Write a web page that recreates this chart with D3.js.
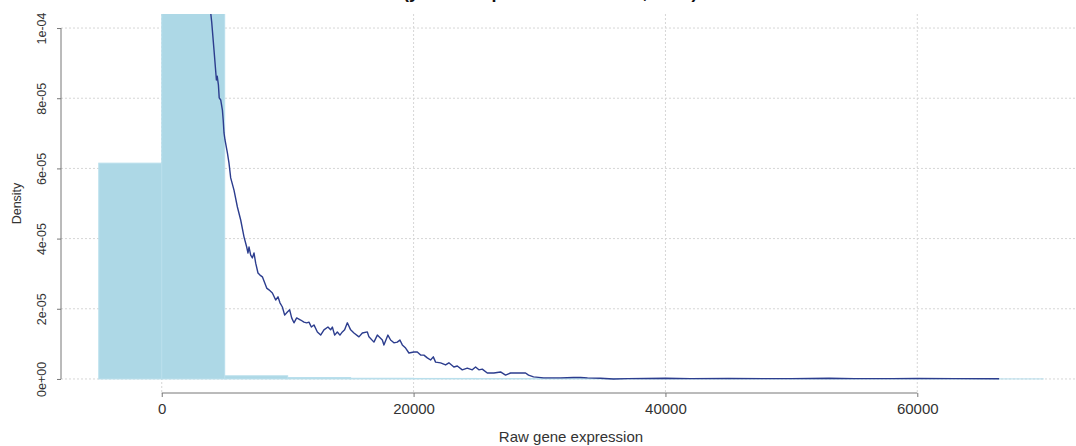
<!DOCTYPE html>
<html>
<head>
<meta charset="utf-8">
<script src="https://cdn.jsdelivr.net/npm/d3@7"></script>
<style>
    body { margin: 0; background: #fff; }
    svg { display: block; font-family: "Liberation Sans", Arial, sans-serif; }
</style>
</head>
<body>
<div id="chart"></div>
<script>
// histogram bins (left edge, width 5000), density in units of 1e-5
var binLeft = [-5000, 0, 5000, 10000, 15000, 20000, 25000, 30000, 35000, 40000, 45000, 50000, 55000, 60000, 65000]
var binWidth = 5000
var binHeight = [6.15, 13.7, 0.09, 0.04, 0.02, 0.015, 0.01, 0.01, 0.008, 0.006, 0.005, 0.004, 0.003, 0.003, 0.002]

// density curve, y in units of 1e-5
var densX = [3650, 3889, 3968, 4151, 4341, 4405, 4500, 4564, 4683, 4818, 4881, 4945, 5024, 5214, 5341, 5476, 5738, 6008, 6270, 6532,
    6746, 6849, 6929, 7064, 7199, 7326, 7461, 7643, 7802, 7992, 8175, 8334, 8516, 8786, 9048, 9231, 9389, 9580, 9762, 9977,
    10159, 10318, 10500, 10715, 11032, 11294, 11508, 11691, 11881, 12088, 12358, 12620, 12881, 13199, 13413, 13548, 13731, 13945, 14151, 14342,
    14524, 14739, 15001, 15263, 15660, 15930, 16327, 16454, 16851, 17120, 17517, 17644, 17961, 18175, 18437, 18707, 18913, 19104, 19366, 19628,
    20025, 20295, 20557, 20819, 21089, 21350, 21565, 21747, 22144, 22541, 22803, 23200, 23470, 23866, 24263, 24660, 24922, 25184, 25454, 25851,
    26375, 26905, 27302, 27699, 28493, 28890, 29128, 29525, 30318, 31667, 32699, 33255, 33811, 34842, 35874, 37000, 40000, 42000, 45000, 48000,
    50000, 53000, 55000, 58000, 60000, 63000, 66500]
var densY = [11.5, 10.43, 10.17, 9.37, 8.52, 8.63, 8.38, 8.01, 7.95, 7.66, 7.38, 7.01, 6.81, 6.44, 6.15, 5.73, 5.38, 4.90, 4.53, 4.05,
    3.76, 3.59, 3.76, 3.53, 3.45, 3.59, 3.30, 3.02, 2.96, 2.91, 2.74, 2.59, 2.54, 2.45, 2.25, 2.34, 2.17, 2.05, 1.82, 1.91,
    1.97, 1.74, 1.60, 1.74, 1.68, 1.62, 1.60, 1.62, 1.48, 1.54, 1.34, 1.25, 1.40, 1.48, 1.40, 1.48, 1.25, 1.34, 1.25, 1.34,
    1.40, 1.60, 1.40, 1.31, 1.20, 1.31, 1.34, 1.20, 1.05, 1.25, 1.11, 0.97, 1.25, 1.11, 1.03, 1.05, 1.11, 0.97, 0.88, 0.74,
    0.77, 0.77, 0.68, 0.68, 0.60, 0.54, 0.63, 0.48, 0.46, 0.40, 0.46, 0.34, 0.37, 0.26, 0.31, 0.26, 0.34, 0.26, 0.28, 0.17,
    0.17, 0.20, 0.11, 0.17, 0.17, 0.17, 0.11, 0.06, 0.03, 0.03, 0.04, 0.04, 0.03, 0.02, 0.0, 0.01, 0.02, 0.01, 0.015, 0.01,
    0.01, 0.02, 0.01, 0.01, 0.015, 0.01, 0.005]
var unit = 1e-5

var xTicks = [0, 20000, 40000, 60000]
var yTicks = [0, 2e-5, 4e-5, 6e-5, 8e-5, 1e-4]
var yTickLabels = ["0e+00", "2e-05", "4e-05", "6e-05", "8e-05", "1e-04"]

// only the descenders of the title are inside the picture
var title = "Raw counts (y = mean per 5000-wide bin, ratio)"

var width = 1076
var height = 446
var plot = {left: 61, right: 1081, top: 14, bottom: 393}

// R style: 4% padding around the data range
var x = d3.scaleLinear().domain([-8000, 73000]).range([plot.left, plot.right])
var y = d3.scaleLinear().domain([-0.04e-4, 1.04e-4]).range([plot.bottom, plot.top])

var svg = d3.select("#chart").append("svg").attr("width", width).attr("height", height)

svg.append("clipPath").attr("id", "plotclip")
    .append("rect")
    .attr("x", plot.left).attr("y", plot.top)
    .attr("width", plot.right - plot.left).attr("height", plot.bottom - plot.top)

var grid = svg.append("g").attr("stroke", "#d6d6d6").attr("stroke-width", 1).attr("stroke-dasharray", "2,2")
grid.selectAll("line.gx").data(xTicks).enter().append("line")
    .attr("x1", function(d){ return x(d) }).attr("x2", function(d){ return x(d) })
    .attr("y1", plot.top).attr("y2", plot.bottom)
grid.selectAll("line.gy").data(yTicks).enter().append("line")
    .attr("x1", plot.left).attr("x2", plot.right)
    .attr("y1", function(d){ return y(d) }).attr("y2", function(d){ return y(d) })

var inner = svg.append("g").attr("clip-path", "url(#plotclip)")

inner.selectAll("rect.bar").data(binLeft).enter().append("rect")
    .attr("class", "bar")
    .attr("x", function(d){ return x(d) })
    .attr("width", function(d){ return x(d + binWidth) - x(d) })
    .attr("y", function(d, i){ return y(binHeight[i] * unit) })
    .attr("height", function(d, i){ return y(0) - y(binHeight[i] * unit) })
    .attr("fill", "#add8e6")
    .attr("stroke", "#b9dfec")
    .attr("stroke-width", 1)

var line = d3.line()
    .x(function(d, i){ return x(densX[i]) })
    .y(function(d, i){ return y(densY[i] * unit) })

inner.append("path")
    .datum(densX)
    .attr("d", line)
    .attr("fill", "none")
    .attr("stroke", "#2c3d8e")
    .attr("stroke-width", 1.4)
    .attr("stroke-linejoin", "round")

// x axis
var xAxis = svg.append("g").attr("transform", "translate(0," + plot.bottom + ")")
    .call(d3.axisBottom(x).tickValues(xTicks).tickSize(4).tickSizeOuter(0).tickFormat(d3.format("d")))
xAxis.select(".domain").attr("d", "M" + x(xTicks[0]) + ",0H" + x(xTicks[xTicks.length - 1])).attr("stroke", "#777")
xAxis.selectAll(".tick line").attr("stroke", "#777")
xAxis.selectAll(".tick text").attr("y", 10).attr("dy", "0.71em")
    .attr("font-size", "15px").attr("fill", "#333").attr("font-family", "Liberation Sans, Arial, sans-serif")

// y axis
var yAxis = svg.append("g").attr("transform", "translate(" + plot.left + ",0)")
    .call(d3.axisLeft(y).tickValues(yTicks).tickSize(4).tickSizeOuter(0).tickFormat(function(d, i){ return yTickLabels[i] }))
yAxis.select(".domain").attr("d", "M0," + y(yTicks[0]) + "V" + y(yTicks[yTicks.length - 1])).attr("stroke", "#777")
yAxis.selectAll(".tick line").attr("stroke", "#777")
yAxis.selectAll(".tick text")
    .attr("x", null).attr("dy", null)
    .attr("transform", "translate(-19,0) rotate(-90)")
    .attr("text-anchor", "middle")
    .attr("dominant-baseline", "central")
    .attr("font-size", "12.5px").attr("fill", "#333").attr("font-family", "Liberation Sans, Arial, sans-serif")

svg.append("text")
    .attr("x", (plot.left + plot.right) / 2).attr("y", 442)
    .attr("text-anchor", "middle")
    .attr("font-size", "15px").attr("fill", "#333")
    .text("Raw gene expression")

svg.append("text")
    .attr("transform", "translate(17," + (plot.top + plot.bottom) / 2 + ") rotate(-90)")
    .attr("text-anchor", "middle")
    .attr("dominant-baseline", "central")
    .attr("font-size", "12.5px").attr("fill", "#333")
    .text("Density")

svg.append("text")
    .attr("x", 297).attr("y", -2.5)
    .attr("font-size", "18px").attr("font-weight", "bold").attr("fill", "#111")
    .text(title)
</script>
</body>
</html>
